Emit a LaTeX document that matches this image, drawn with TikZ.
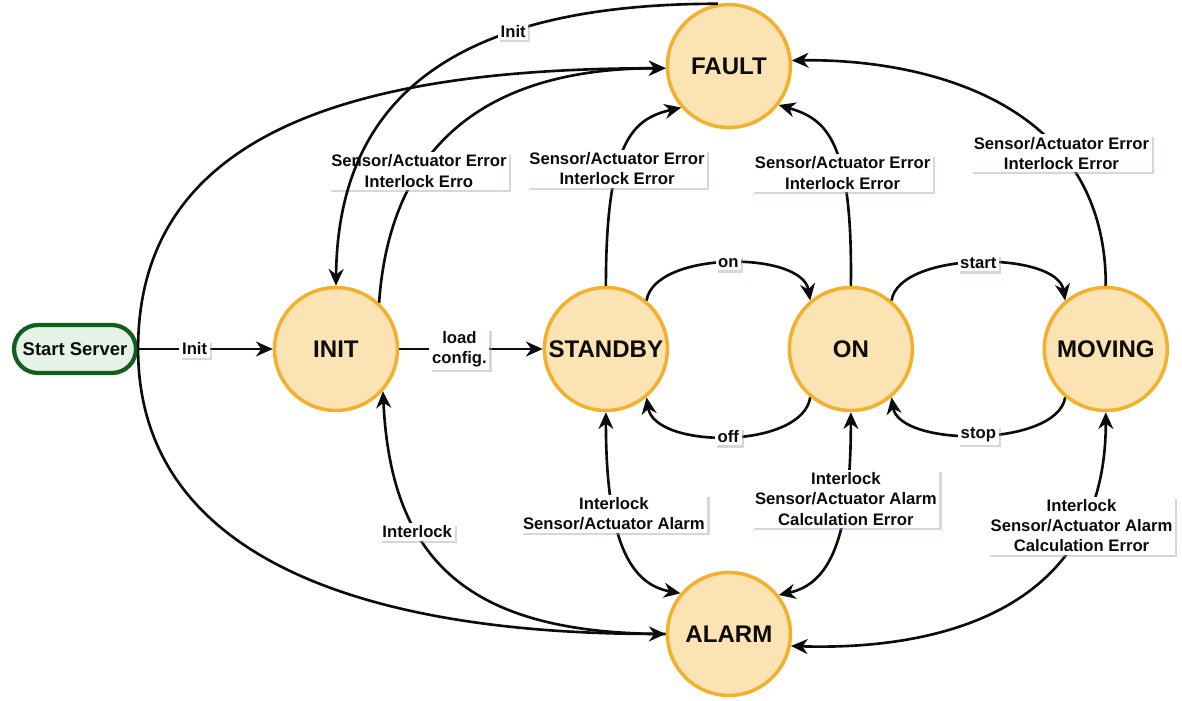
\documentclass[tikz,border=0pt]{standalone}
\usepackage{fontspec}
\setmainfont{Liberation Sans}
\usepackage{xcolor}
\definecolor{statefill}{HTML}{FBE3B4}
\definecolor{stateedge}{HTML}{F3B02C}
\definecolor{startgreen}{HTML}{115E1F}
\definecolor{lightgreen}{HTML}{E4F3E6}
\definecolor{inkblack}{HTML}{0C0C0C}
\definecolor{lblshadow}{HTML}{9EA3C0}
\usetikzlibrary{arrows.meta, positioning, shadows}
\tikzset{
  fsmstate/.style={circle, draw=stateedge, line width=2pt, fill=statefill, text=inkblack,
                   minimum size=2.46cm, inner sep=0pt, font=\fontsize{13.7}{16}\selectfont\bfseries},
  fsmstart/.style={rectangle, rounded corners=0.48cm, draw=startgreen, line width=2.4pt, fill=lightgreen,
                   text=inkblack, minimum width=2.44cm, minimum height=0.96cm, inner sep=2pt,
                   font=\fontsize{10.5}{12}\selectfont\bfseries},
  fsmarr/.style ={-{Stealth[length=9.5pt, width=8.5pt, inset=3pt]}, line width=1.5pt, color=inkblack},
  fsmarrb/.style={{Stealth[length=9.5pt, width=8.5pt, inset=3pt]}-{Stealth[length=9.5pt, width=8.5pt, inset=3pt]},
                  line width=1.5pt, color=inkblack},
  fsmlbl/.style ={fill=white, text=inkblack, align=center, inner sep=1.5pt,
                  font=\fontsize{9.5}{11.5}\selectfont\bfseries,
                  drop shadow={shadow xshift=1.2pt, shadow yshift=-1.4pt, fill=lblshadow, opacity=0.45}},
}

\begin{document}
\begin{tikzpicture}[x=0.02cm, y=0.02cm, on grid]
  \useasboundingbox (0,0) rectangle (1182,700);
  % states
  \node[fsmstart] (start) at (75,351) {Start Server};
  \node[fsmstate, right=5.22cm of start] (init) {INIT};
  \node[fsmstate, right=5.4cm of init] (standby) {STANDBY};
  \node[fsmstate, right=4.9cm of standby] (on) {ON};
  \node[fsmstate, right=5.1cm of on] (moving) {MOVING};
  \node[fsmstate, above right=5.66cm and 2.46cm of standby] (fault) {FAULT};
  \node[fsmstate, below right=5.7cm and 2.46cm of standby] (alarm) {ALARM};
  % main line
  \draw[fsmarr] (start) -- node[fsmlbl, pos=0.42]{Init} (init);
  \draw[fsmarr] (init) -- node[fsmlbl, pos=0.42]{load\\config.} (standby);
  % standby / on / moving
  \draw[fsmarr] (standby.50) .. controls +(8,50) and +(-8,50) .. node[fsmlbl]{on} (on.130);
  \draw[fsmarr] (on.230) .. controls +(-8,-52) and +(8,-52) .. node[fsmlbl]{off} (standby.310);
  \draw[fsmarr] (on.50) .. controls +(8,50) and +(-8,50) .. node[fsmlbl]{start} (moving.130);
  \draw[fsmarr] (moving.230) .. controls +(-8,-50) and +(8,-50) .. node[fsmlbl]{stop} (on.310);
  % to FAULT
  \draw[fsmarr] (init.47) .. controls +(13,184) and +(-147,0) ..
    node[fsmlbl, pos=0.3]{Sensor/Actuator Error\\Interlock Erro} (fault.182);
  \draw[fsmarr] (start.east) .. controls +(0,219) and +(-307,0) .. (fault.182);
  \draw[fsmarr] (standby.north) .. controls +(0,147) and +(-47,-11) ..
    node[fsmlbl, pos=0.37]{Sensor/Actuator Error\\Interlock Error} (fault.221);
  \draw[fsmarr] (on.north) .. controls +(2,147) and +(47,-14) ..
    node[fsmlbl, pos=0.35]{Sensor/Actuator Error\\Interlock Error} (fault.322);
  \draw[fsmarr] (moving.north) .. controls +(0,197) and +(109,2) ..
    node[fsmlbl, pos=0.29]{Sensor/Actuator Error\\Interlock Error} (fault.5);
  % back to INIT
  \draw[fsmarr] (fault.100) .. controls +(-278,0) and +(2,177) .. node[fsmlbl, pos=0.3]{Init} (init.north);
  \draw[fsmarr] (alarm.west) .. controls +(-197,0) and +(8,-170) .. node[fsmlbl, pos=0.66]{Interlock} (init.318);
  % to ALARM
  \draw[fsmarr] (start.east) .. controls +(0,-211) and +(-297,0) .. (alarm.west);
  \draw[fsmarrb] (standby.south) .. controls +(0,-129) and +(-50,9) ..
    node[fsmlbl, pos=0.33]{Interlock\\Sensor/Actuator Alarm} (alarm.140);
  \draw[fsmarrb] (on.south) .. controls +(0,-129) and +(50,11) ..
    node[fsmlbl, pos=0.27]{Interlock\\Sensor/Actuator Alarm\\Calculation Error} (alarm.38);
  \draw[fsmarrb] (moving.south) .. controls +(0,-209) and +(130,-4) ..
    node[fsmlbl, pos=0.22]{Interlock\\Sensor/Actuator Alarm\\Calculation Error} (alarm.349);
\end{tikzpicture}
\end{document}
